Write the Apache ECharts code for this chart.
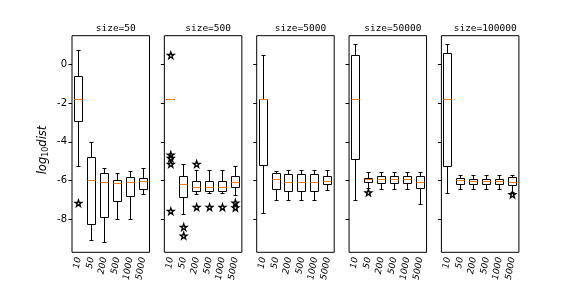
<!DOCTYPE html>
<html><head><meta charset="utf-8">
<script src="https://cdn.jsdelivr.net/npm/echarts@6/dist/echarts.min.js"></script>
<style>html,body{margin:0;padding:0;background:#fff}#c{width:576px;height:288px}</style>
</head><body><div id="c"></div>
<script>
// ---- data ----
const categories = ['10', '50', '200', '500', '1000', '5000'];
const sizes = ['50', '500', '5000', '50000', '100000'];
const yTicks = [-8, -6, -4, -2, 0];

// each row: [whiskerLow, q1, median, q3, whiskerHigh]
const boxSize50 = [
  [-5.24, -2.92, -1.80, -0.59, 0.74],
  [-9.06, -8.25, -5.98, -4.78, -4.02],
  [-9.18, -7.89, -6.07, -5.62, -5.36],
  [-7.99, -7.03, -6.14, -5.98, -5.59],
  [-7.99, -6.82, -6.08, -5.83, -5.52],
  [-6.70, -6.44, -6.03, -5.88, -5.36]
];
const boxSize500 = [
  [-1.80, -1.80, -1.80, -1.80, -1.80],
  [-7.72, -6.86, -6.17, -5.79, -5.14],
  [-6.69, -6.52, -6.31, -6.00, -5.48],
  [-6.62, -6.52, -6.31, -6.00, -5.48],
  [-6.62, -6.52, -6.31, -6.00, -5.48],
  [-6.74, -6.34, -6.05, -5.79, -5.24]
];
const boxSize5000 = [
  [-7.66, -5.21, -1.80, -1.80, 0.48],
  [-7.01, -6.44, -5.93, -5.62, -5.53],
  [-7.01, -6.56, -6.08, -5.67, -5.46],
  [-7.01, -6.56, -6.08, -5.67, -5.46],
  [-7.01, -6.56, -6.08, -5.67, -5.46],
  [-6.49, -6.19, -6.03, -5.77, -5.46]
];
const boxSize50000 = [
  [-7.01, -4.87, -1.80, 0.46, 1.03],
  [-6.39, -6.08, -5.93, -5.88, -5.57],
  [-6.44, -6.13, -5.93, -5.77, -5.57],
  [-6.44, -6.13, -5.93, -5.77, -5.57],
  [-6.44, -6.13, -5.93, -5.77, -5.57],
  [-7.22, -6.39, -6.08, -5.77, -5.57]
];
const boxSize100000 = [
  [-6.65, -5.24, -1.80, 0.57, 1.03],
  [-6.43, -6.17, -5.96, -5.88, -5.71],
  [-6.43, -6.17, -6.00, -5.91, -5.71],
  [-6.43, -6.17, -6.00, -5.91, -5.71],
  [-6.43, -6.17, -6.00, -5.91, -5.71],
  [-6.58, -6.22, -6.10, -5.82, -5.71]
];
// outliers: [categoryIndex, value]
const outSize50 = [[0, -7.17]];
const outSize500 = [[0, 0.46], [0, -4.68], [0, -4.85], [0, -5.15], [0, -7.58],
  [1, -8.40], [1, -8.85], [2, -5.15], [2, -7.37], [3, -7.37], [4, -7.37], [5, -7.15], [5, -7.40]];
const outSize5000 = [];
const outSize50000 = [[1, -6.62]];
const outSize100000 = [[5, -6.72]];

const boxes = [boxSize50, boxSize500, boxSize5000, boxSize50000, boxSize100000];
const outliers = [outSize50, outSize500, outSize5000, outSize50000, outSize100000];

// ---- layout ----
const gLeft = 72, gStep = 92.35, gWidth = 77.5, gTop = 35.7, gHeight = 216.6;
const starPath = 'path://M50,0 L61.8,35.3 L98.5,35.3 L68.8,57.1 L79.4,92.1 L50,70.5 L20.6,92.1 L31.2,57.1 L1.5,35.3 L38.2,35.3 Z';
const snap = v => Math.round(v) + 0.5;

function renderBox(params, api) {
  const x = api.value(0);
  const lo = snap(api.coord([x, api.value(1)])[1]);
  const q1 = snap(api.coord([x, api.value(2)])[1]);
  const md = snap(api.coord([x, api.value(3)])[1]);
  const q3 = snap(api.coord([x, api.value(4)])[1]);
  const hi = snap(api.coord([x, api.value(5)])[1]);
  const cw = api.size([1, 0])[0];
  const cx = snap(api.coord([x, 0])[0] - 0.5);
  const hb = Math.round(cw * 0.28), hc = Math.round(cw * 0.15);
  const ls = {stroke: '#000', lineWidth: 1, fill: null};
  const ch = [];
  if (hi < q3) ch.push({type: 'line', shape: {x1: cx, y1: q3, x2: cx, y2: hi}, style: ls});
  if (lo > q1) ch.push({type: 'line', shape: {x1: cx, y1: q1, x2: cx, y2: lo}, style: ls});
  ch.push({type: 'line', shape: {x1: cx - hc, y1: hi, x2: cx + hc, y2: hi}, style: ls});
  ch.push({type: 'line', shape: {x1: cx - hc, y1: lo, x2: cx + hc, y2: lo}, style: ls});
  ch.push({type: 'rect', shape: {x: cx - hb, y: q3, width: 2 * hb, height: q1 - q3}, style: {stroke: '#000', lineWidth: 1, fill: 'none'}});
  ch.push({type: 'line', shape: {x1: cx - hb, y1: md, x2: cx + hb, y2: md}, style: {stroke: '#ff7f0e', lineWidth: 1}});
  return {type: 'group', children: ch};
}

const grids = [], xAxes = [], yAxes = [], series = [], titles = [];
sizes.forEach((s, i) => {
  const left = gLeft + i * gStep;
  grids.push({left: left, top: gTop, width: gWidth, height: gHeight, show: true,
    borderColor: '#000', borderWidth: 1, backgroundColor: 'transparent', containLabel: false});
  titles.push({text: 'size=' + s, left: left + gWidth / 2, top: 19, textAlign: 'center',
    textStyle: {fontFamily: 'DejaVu Sans Mono', fontSize: 9.5, fontWeight: 'normal', color: '#000'}});
  xAxes.push({type: 'category', gridIndex: i, data: categories, boundaryGap: true,
    axisLine: {show: false},
    axisTick: {alignWithLabel: true, length: 3.5, lineStyle: {color: '#000'}},
    axisLabel: {rotate: 80, fontSize: 9, fontFamily: 'DejaVu Sans', fontStyle: 'italic', color: '#000', margin: 5, interval: 0}});
  yAxes.push({type: 'value', gridIndex: i, min: -9.7, max: 1.47,
    splitLine: {show: false}, axisLine: {show: false},
    axisTick: {show: true, length: 3.5, lineStyle: {color: '#000'}, customValues: yTicks},
    axisLabel: {show: i === 0, fontSize: 10, fontFamily: 'DejaVu Sans', color: '#000', margin: 5, customValues: yTicks},
    name: i === 0 ? '{a|log}{b|10}{a|dist}' : '',
    nameLocation: 'middle', nameGap: 22, nameRotate: 90,
    nameTextStyle: {padding: [0, 12, 0, 0], rich: {
      a: {fontSize: 11.5, fontStyle: 'italic', fontFamily: 'DejaVu Sans', color: '#000'},
      b: {fontSize: 8, fontFamily: 'DejaVu Sans', color: '#000', padding: [6, 0, 0, 0]}
    }}});
  series.push({type: 'custom', xAxisIndex: i, yAxisIndex: i, renderItem: renderBox,
    encode: {x: 0, y: [1, 2, 3, 4, 5]},
    data: boxes[i].map((b, k) => [k].concat(b)), silent: true, animation: false});
  series.push({type: 'scatter', xAxisIndex: i, yAxisIndex: i, symbol: starPath, symbolSize: 6.5,
    itemStyle: {color: '#fff', borderColor: '#000', borderWidth: 1.35, opacity: 1}, data: outliers[i], silent: true, animation: false, z: 5});
});

const chart = echarts.init(document.getElementById('c'), null, {renderer: 'canvas'});
chart.setOption({animation: false, title: titles, grid: grids, xAxis: xAxes, yAxis: yAxes, series: series});
</script>
</body></html>
